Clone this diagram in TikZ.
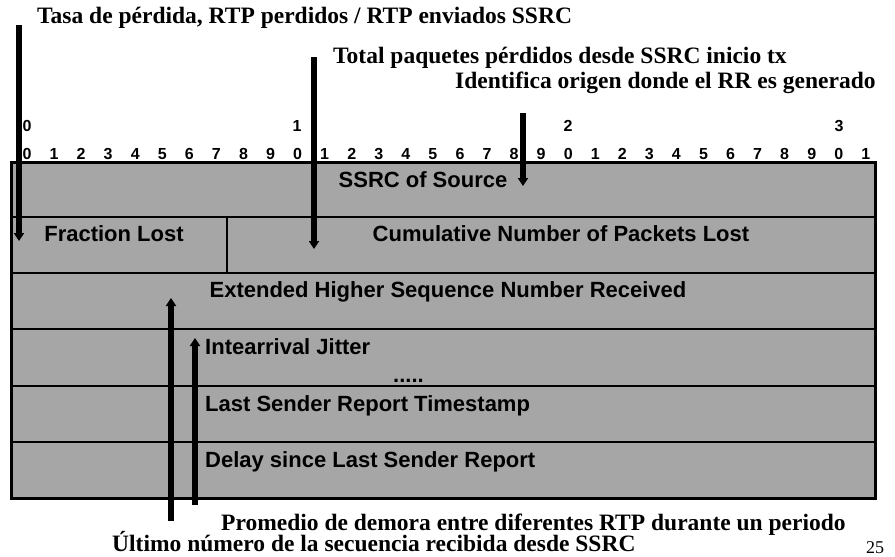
\documentclass[tikz,border=0pt]{standalone}
\usepackage{fontspec}
\setmainfont{Liberation Serif}
\setsansfont{Liberation Sans}
\usetikzlibrary{arrows.meta}
\definecolor{cellgray}{HTML}{A6A6A6}
\begin{document}
\begin{tikzpicture}[x=1pt,y=-1pt,
  fieldtext/.style={font=\sffamily\bfseries\fontsize{22}{24}\selectfont, inner sep=0pt},
  bitnum/.style={font=\sffamily\bfseries\fontsize{16}{18}\selectfont, inner sep=0pt},
  note/.style={font=\rmfamily\bfseries\fontsize{23.5}{26}\selectfont, inner sep=0pt, anchor=base west},
  pagenum/.style={font=\rmfamily\fontsize{18}{20}\selectfont, inner sep=0pt},
  pointer/.style={line width=6pt, -{Triangle[width=10pt,length=8pt]}},
  rule/.style={line width=2.5pt},
]
\useasboundingbox (0,0) rectangle (895,557);

% bit ruler
\foreach \t/\x in {0/27,1/297,2/568,3/839}
  \node[bitnum] (ten\t) at (\x,126) {\t};
\foreach \i in {0,...,31} {
  \pgfmathtruncatemacro{\d}{mod(\i,10)}
  \node[bitnum] (bit\i) at (27+27.06*\i,154) {\d};
}

% report block
\fill[cellgray] (11,162) rectangle (875,498);
\draw[rule] (11,217) -- (875,217);
\draw[rule] (11,273) -- (875,273);
\draw[rule] (11,329) -- (875,329);
\draw[rule] (11,386) -- (875,386);
\draw[rule] (11,442) -- (875,442);
\draw[rule] (227,217) -- (227,273);
\draw[line width=3pt] (11,162) rectangle (875,498);

% field names
\node[fieldtext, anchor=base] (ssrc) at (423,187) {SSRC of Source};
\node[fieldtext, anchor=base] (frac) at (114,241) {Fraction Lost};
\node[fieldtext, anchor=base] (cum) at (561,241) {Cumulative Number of Packets Lost};
\node[fieldtext, anchor=base] (ext) at (448,297) {Extended Higher Sequence Number Received};
\node[fieldtext, anchor=base west] (jit) at (205,354) {Intearrival Jitter};
\node[fieldtext, anchor=base west] (dots) at (393,382) {.....};
\node[fieldtext, anchor=base west] (lsr) at (205,411) {Last Sender Report Timestamp};
\node[fieldtext, anchor=base west] (dlsr) at (205,467) {Delay since Last Sender Report};

% annotations
\node[note] (nfrac) at (37,23) {Tasa de pérdida, RTP perdidos / RTP enviados SSRC};
\node[note] (ncum) at (333,63) {Total paquetes pérdidos desde SSRC inicio tx};
\node[note] (nssrc) at (455,88) {Identifica origen donde el RR es generado};
\node[note] (njit) at (221,530) {Promedio de demora entre diferentes RTP durante un periodo};
\node[note] (next) at (112,551) {Último número de la secuencia recibida desde SSRC};
\node[pagenum, anchor=base] (page) at (875,553) {25};

% pointers
\coordinate (p1s) at (19,25);   \coordinate (p1e) at (19,241);
\coordinate (p2s) at (314,57);  \coordinate (p2e) at (314,249);
\coordinate (p3s) at (523,113); \coordinate (p3e) at (523,186);
\coordinate (p4s) at (171,521); \coordinate (p4e) at (171,298);
\coordinate (p5s) at (195,505); \coordinate (p5e) at (195,338);
\draw[pointer] (p1s) -- (p1e);
\draw[pointer] (p2s) -- (p2e);
\draw[pointer] (p3s) -- (p3e);
\draw[pointer] (p4s) -- (p4e);
\draw[pointer] (p5s) -- (p5e);
\end{tikzpicture}
\end{document}
